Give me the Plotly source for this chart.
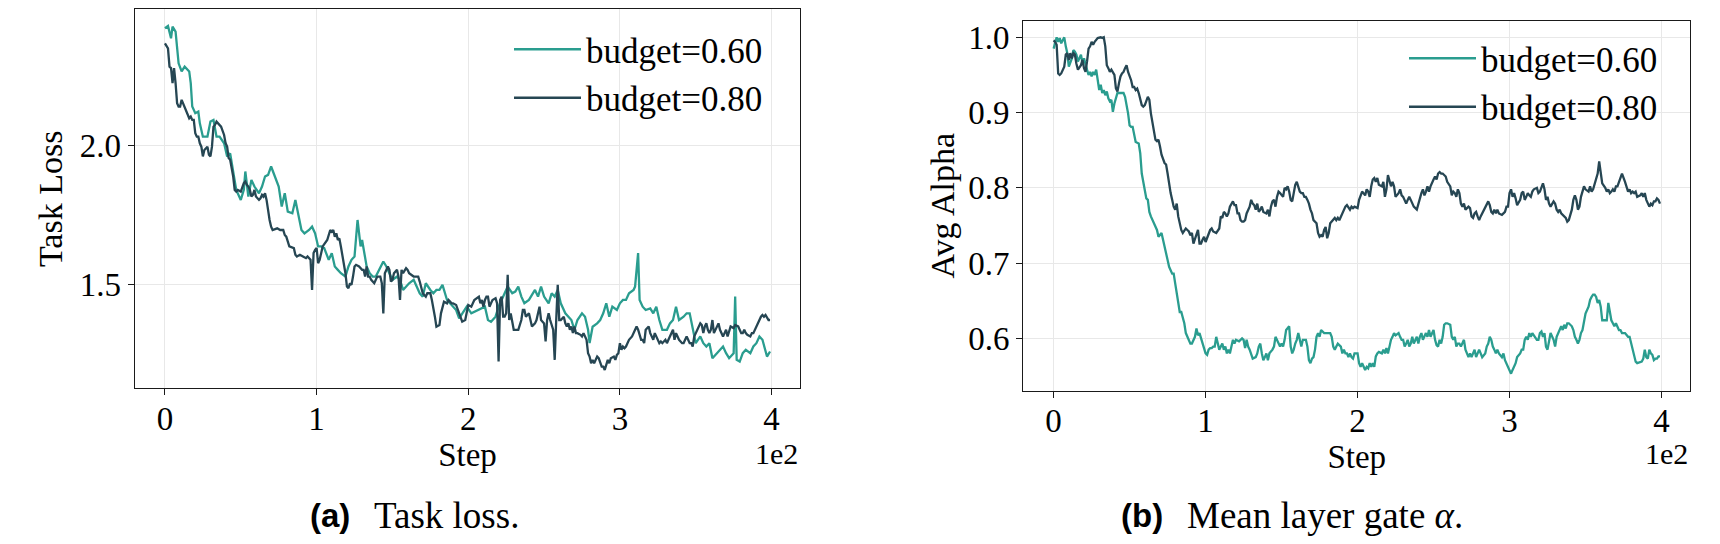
import plotly.graph_objects as go

# ---------------- data ----------------
series_names = ["budget=0.60", "budget=0.80"]

steps_loss_060 = [0,2,4,5,7,9,11,13,16,17,18,20,22,23,25,28,30,32,34,36,39,41,43,45,47,50,52,53,55,57,59,62,64,66,68,70,73,75,77,79,81,84,86,88,90,92,95,97,99,101,103,105,108,110,112,114,116,119,121,123,125,127,129,130,132,133,135,137,139,142,144,146,148,150,153,155,157,159,161,164,166,168,170,172,175,177,179,181,183,186,188,190,192,194,196,199,
                  202,207,211,213,215,218,220,222,224,226,229,231,233,235,237,240,242,244,246,248,250,253,255,257,259,261,264,266,268,270,272,275,277,279,280,282,285,287,289,291,293,295,298,300,302,304,306,309,310,312,313,315,317,320,322,324,326,328,331,333,335,337,339,342,344,346,348,350,353,355,357,359,361,364,366,368,370,372,375,376,377,379,381,383,386,388,390,392,394,395,397,399]
loss_060 = [2.421,2.429,2.385,2.427,2.409,2.295,2.266,2.283,2.266,2.224,2.140,2.116,2.122,2.080,2.032,2.032,2.086,2.092,2.032,2.032,
            2.008,1.961,1.972,1.901,1.841,1.805,1.841,1.907,1.817,1.877,1.853,1.829,1.853,1.889,1.895,1.925,1.877,1.853,1.781,1.829,
            1.763,1.757,1.805,1.757,1.697,1.685,1.697,1.709,1.685,1.638,1.638,1.632,1.590,1.614,1.566,1.554,1.542,1.530,1.566,1.590,
            1.602,1.733,1.638,1.661,1.602,1.566,1.542,1.530,1.530,1.566,1.584,1.566,1.542,1.518,1.530,1.518,1.482,1.494,1.506,1.518,
            1.494,1.470,1.458,1.506,1.482,1.470,1.482,1.482,1.500,1.446,1.434,1.422,1.410,1.380,1.398,1.422,
            1.398,1.410,1.422,1.374,1.368,1.386,1.422,1.446,1.470,1.494,1.470,1.476,1.494,1.458,1.434,1.446,1.464,1.482,1.458,1.494,
            1.458,1.434,1.470,1.458,1.482,1.434,1.398,1.386,1.374,1.339,1.374,1.398,1.386,1.339,1.291,1.350,1.362,1.374,1.398,1.434,
            1.386,1.422,1.410,1.434,1.446,1.446,1.470,1.482,1.494,1.614,1.446,1.422,1.410,1.416,1.398,1.422,1.374,1.339,1.339,1.362,
            1.374,1.422,1.374,1.386,1.398,1.398,1.339,1.291,1.315,1.291,1.279,1.291,1.237,1.255,1.267,1.279,1.255,1.237,1.255,1.458,
            1.231,1.225,1.255,1.267,1.255,1.279,1.291,1.315,1.303,1.279,1.243,1.261]

steps_loss_080 = [0,2,3,4,5,6,7,8,9,10,11,12,13,14,16,17,18,19,20,21,22,23,24,25,26,28,29,30,31,32,33,34,35,36,37,39,40,41,42,43,
                  44,45,46,47,48,50,52,53,54,55,56,57,58,59,60,62,63,64,65,66,67,68,69,70,71,74,76,78,79,80,82,85,86,87,89,91,93,94,96,97,
                  98,99,100,101,102,103,104,107,108,109,110,111,112,113,114,115,116,118,119,120,121,122,123,124,125,126,128,130,131,132,
                  133,134,135,136,138,140,142,143,144,145,146,147,148,149,150,151,153,154,155,156,157,158,159,160,161,164,166,167,168,169,
                  170,171,172,173,175,176,177,178,179,181,182,183,184,186,187,188,189,190,192,194,196,198,199,
                  200,202,204,207,208,209,210,211,212,213,214,215,216,218,219,220,221,222,223,224,225,226,227,228,230,231,233,235,236,237,
                  238,240,241,242,244,245,246,247,248,250,251,252,253,254,256,257,258,259,260,261,263,264,265,266,267,268,269,270,271,272,
                  274,275,276,277,278,279,280,281,282,283,285,286,287,288,289,290,291,292,293,294,296,297,298,299,300,301,302,303,304,305,
                  306,308,309,310,311,312,313,314,315,316,317,319,320,321,322,323,324,325,326,327,328,330,331,332,333,334,335,336,337,338,
                  339,341,342,343,344,345,346,347,348,349,350,351,353,354,355,356,357,358,359,360,361,362,364,365,366,367,368,369,370,371,
                  372,373,375,376,378,379,380,381,382,383,384,386,387,388,389,390,391,392,393,394,395,396,398,399]
loss_080 = [2.367,2.349,2.283,2.278,2.224,2.278,2.224,2.152,2.140,2.140,2.164,2.152,2.140,2.128,2.098,2.104,2.092,2.092,2.044,2.032,
            2.032,2.008,1.996,1.961,1.984,1.996,1.967,1.961,1.996,2.068,2.074,2.086,2.080,2.074,2.068,2.038,2.008,1.996,1.955,1.949,
            1.925,1.889,1.841,1.835,1.841,1.835,1.865,1.871,1.859,1.853,1.841,1.817,1.823,1.841,1.817,1.805,1.811,1.823,1.817,1.829,
            1.805,1.757,1.733,1.709,1.697,1.703,1.697,1.697,1.679,1.673,1.638,1.632,1.608,1.602,1.608,1.602,1.596,1.602,1.590,1.482,
            1.614,1.626,1.632,1.578,1.590,1.614,1.638,1.661,1.685,1.697,1.691,1.697,1.673,1.685,1.661,1.667,1.638,1.578,1.542,1.494,
            1.488,1.506,1.500,1.530,1.566,1.572,1.566,1.554,1.554,1.530,1.566,1.530,1.530,1.518,1.506,1.530,1.530,1.506,1.398,1.542,
            1.554,1.566,1.554,1.512,1.518,1.542,1.554,1.530,1.446,1.554,1.542,1.554,1.560,1.554,1.542,1.530,1.530,1.530,1.512,1.494,
            1.470,1.464,1.458,1.470,1.470,1.446,1.422,1.386,1.350,1.356,1.398,1.422,1.440,1.434,1.446,1.440,1.434,1.434,1.428,1.398,
            1.368,1.374,1.398,
            1.428,1.422,1.446,1.458,1.434,1.446,1.422,1.446,1.458,1.458,1.422,1.434,1.446,1.452,1.434,1.225,1.446,1.458,1.386,1.386,
            1.398,1.536,1.374,1.398,1.339,1.339,1.339,1.374,1.410,1.410,1.386,1.398,1.374,1.351,1.362,1.374,1.398,1.422,1.374,1.362,
            1.297,1.374,1.398,1.374,1.339,1.231,1.374,1.500,1.374,1.374,1.386,1.362,1.351,1.362,1.339,1.351,1.327,1.351,1.327,1.327,
            1.321,1.315,1.327,1.315,1.303,1.255,1.243,1.219,1.231,1.219,1.243,1.237,1.219,1.207,1.207,1.195,1.213,1.231,1.219,1.237,
            1.243,1.231,1.249,1.255,1.291,1.267,1.279,1.273,1.279,1.291,1.303,1.315,1.327,1.339,1.351,1.339,1.315,1.303,1.303,1.291,
            1.339,1.351,1.327,1.315,1.303,1.327,1.315,1.303,1.291,1.297,1.291,1.303,1.291,1.303,1.315,1.327,1.339,1.303,1.327,1.315,
            1.303,1.291,1.291,1.303,1.315,1.303,1.291,1.291,1.279,1.315,1.327,1.339,1.362,1.356,1.327,1.351,1.362,1.339,1.327,1.339,
            1.374,1.327,1.351,1.362,1.339,1.327,1.315,1.327,1.339,1.315,1.339,1.351,1.345,1.356,1.351,1.339,1.327,1.327,1.339,1.327,
            1.321,1.315,1.327,1.327,1.339,1.351,1.362,1.374,1.386,1.392,1.386,1.392,1.374,1.374]

steps_alpha_060 = [0,1,2,3,4,5,7,8,9,10,11,12,13,14,15,16,18,19,20,21,22,23,24,25,26,27,28,30,31,32,33,34,35,36,37,38,39,40,41,42,
                   43,45,46,47,48,49,50,51,52,53,54,56,57,58,59,60,61,62,63,64,65,66,68,69,70,71,72,73,74,75,76,78,79,80,81,82,83,84,85,86,
                   87,89,90,91,92,93,94,95,96,97,98,100,101,102,103,104,105,106,107,108,109,111,112,113,114,115,116,117,118,119,
                   120,122,123,124,125,126,127,128,129,130,131,133,134,135,136,137,138,139,140,141,142,144,145,146,147,148,149,150,151,152,
                   153,155,156,157,158,159,160,161,162,163,164,166,167,168,169,170,171,172,173,174,175,176,178,179,180,181,182,183,184,185,
                   186,187,189,190,191,192,193,194,195,196,197,
                   198,200,201,202,203,205,206,207,208,209,210,211,212,213,214,216,217,218,219,220,221,222,223,224,225,227,228,229,230,231,
                   232,233,234,235,236,237,239,240,241,242,243,244,245,246,247,248,250,251,252,253,254,255,256,257,258,259,261,262,263,264,
                   265,266,267,268,269,270,271,273,274,275,276,277,278,279,280,281,282,284,285,286,287,288,289,290,291,292,293,295,296,297,
                   298,299,300,301,302,303,304,305,307,308,309,310,311,312,313,314,315,316,318,319,320,321,322,323,324,325,326,327,329,330,
                   331,332,333,334,335,336,337,338,339,341,342,343,344,345,346,347,348,349,350,352,353,354,355,356,357,358,359,360,361,363,
                   364,365,366,367,368,369,370,371,372,373,374,376,377,378,379,380,381,382,383,384,386,387,388,389,390,391,392,393,394,395,
                   396,397,398,399]
alpha_060 = [0.985,0.994,1.000,0.994,0.999,0.992,1.000,0.988,0.979,0.961,0.968,0.972,0.983,0.981,0.977,0.968,0.977,0.965,0.972,0.963,
             0.957,0.950,0.954,0.948,0.954,0.950,0.957,0.930,0.937,0.926,0.930,0.923,0.928,0.919,0.915,0.917,0.901,0.912,0.921,0.926,
             0.926,0.926,0.926,0.921,0.912,0.899,0.883,0.881,0.881,0.872,0.861,0.859,0.846,0.819,0.806,0.794,0.786,0.784,0.768,0.762,
             0.757,0.753,0.744,0.735,0.738,0.740,0.731,0.720,0.713,0.704,0.695,0.686,0.686,0.673,0.660,0.642,0.635,0.635,0.629,0.620,
             0.607,0.596,0.593,0.593,0.598,0.602,0.613,0.604,0.607,0.600,0.593,0.580,0.578,0.585,0.587,0.587,0.589,0.589,0.602,0.593,
             0.585,0.593,0.585,0.589,0.580,0.585,0.580,0.589,0.598,0.593,0.598,0.596,0.598,0.600,0.598,0.587,0.598,0.589,0.585,0.580,
             0.573,0.575,0.580,0.589,0.593,0.580,0.571,0.575,0.580,0.571,0.580,0.585,0.589,0.602,0.598,0.593,0.589,0.593,0.589,0.598,
             0.611,0.616,0.589,0.580,0.585,0.593,0.598,0.607,0.598,0.589,0.598,0.598,0.589,0.571,0.567,0.573,0.575,0.585,0.602,0.607,
             0.602,0.611,0.607,0.607,0.607,0.607,0.607,0.602,0.589,0.585,0.589,0.593,0.589,0.580,0.585,0.580,0.580,0.575,0.580,0.575,
             0.573,
             0.580,0.580,0.567,0.562,0.567,0.558,0.562,0.560,0.567,0.562,0.567,0.562,0.576,0.580,0.582,0.580,0.585,0.580,0.587,0.580,
             0.589,0.598,0.602,0.607,0.604,0.607,0.602,0.598,0.598,0.589,0.593,0.598,0.589,0.593,0.602,0.593,0.602,0.593,0.602,0.607,
             0.598,0.602,0.607,0.602,0.611,0.602,0.611,0.598,0.591,0.589,0.598,0.593,0.602,0.618,0.620,0.620,0.618,0.602,0.598,0.602,
             0.589,0.593,0.593,0.589,0.593,0.598,0.585,0.575,0.580,0.575,0.580,0.585,0.575,0.580,0.585,0.580,0.575,0.580,0.589,0.593,
             0.602,0.598,0.589,0.585,0.580,0.585,0.580,0.575,0.580,0.571,0.567,0.562,0.558,0.553,0.558,0.562,0.567,0.575,0.580,0.585,
             0.585,0.598,0.602,0.598,0.607,0.602,0.607,0.604,0.598,0.598,0.607,0.609,0.602,0.607,0.589,0.585,0.598,0.607,0.598,0.589,
             0.602,0.607,0.611,0.616,0.611,0.618,0.613,0.620,0.620,0.616,0.611,0.602,0.598,0.593,0.598,0.607,0.611,0.624,0.633,0.642,
             0.651,0.655,0.658,0.658,0.655,0.647,0.651,0.642,0.624,0.624,0.624,0.647,0.633,0.624,0.620,0.616,0.620,0.616,0.611,0.611,
             0.607,0.607,0.604,0.602,0.602,0.593,0.585,0.575,0.569,0.567,0.569,0.569,0.573,0.585,0.575,0.573,0.585,0.580,0.578,0.571,
             0.573,0.573,0.576,0.576]

steps_alpha_080 = [0,1,2,3,4,5,7,8,9,10,11,12,13,14,15,16,18,19,20,21,22,23,24,25,26,27,29,30,31,32,33,34,35,36,37,38,40,41,42,43,
                   44,45,46,47,48,49,51,52,53,54,55,56,57,58,59,60,62,63,64,65,66,67,68,69,70,71,73,74,75,76,77,78,79,80,81,82,84,85,86,87,
                   88,89,90,91,92,93,95,96,97,98,99,100,101,102,103,104,105,107,108,109,110,111,112,113,114,115,116,118,119,120,
                   121,122,123,124,125,126,127,129,130,131,132,133,134,135,136,137,138,140,141,142,143,144,145,146,147,148,149,151,152,153,
                   154,155,156,157,158,159,160,162,163,164,165,166,167,168,169,170,171,173,174,175,176,177,178,179,180,181,182,184,185,186,
                   187,188,189,190,191,192,193,195,196,197,198,
                   200,201,202,203,205,206,207,208,209,210,211,212,213,214,216,217,218,219,220,221,222,223,224,225,227,228,229,230,231,232,
                   233,234,235,236,237,239,240,241,242,243,244,245,246,247,248,250,251,252,253,254,255,256,257,258,259,261,262,263,264,265,
                   266,267,268,269,270,271,273,274,275,276,277,278,279,280,281,282,284,285,286,287,288,289,290,291,292,293,295,296,297,298,
                   299,300,301,302,303,304,305,307,308,309,310,311,312,313,314,315,316,318,319,320,321,322,323,324,325,326,327,329,330,331,
                   332,333,334,335,336,337,338,339,341,342,343,344,345,346,347,348,349,350,352,353,354,355,356,357,358,359,360,361,363,364,
                   365,366,367,368,369,370,371,372,373,374,376,377,378,379,380,381,382,383,384,386,387,388,389,390,391,392,393,394,395,396,
                   397,398,399]
alpha_080 = [0.996,0.994,0.990,0.952,0.950,0.952,0.961,0.977,0.979,0.970,0.979,0.972,0.979,0.977,0.965,0.957,0.963,0.970,0.959,0.954,
             0.968,0.985,0.988,0.994,0.990,0.994,0.999,1.000,1.000,0.999,1.000,0.988,0.963,0.959,0.954,0.957,0.950,0.932,0.928,0.939,
             0.948,0.952,0.954,0.959,0.963,0.954,0.943,0.934,0.934,0.930,0.932,0.926,0.917,0.910,0.908,0.910,0.921,0.917,0.899,0.886,
             0.875,0.864,0.862,0.864,0.855,0.844,0.833,0.831,0.819,0.802,0.793,0.784,0.775,0.771,0.779,0.762,0.744,0.740,0.744,0.746,
             0.744,0.742,0.737,0.740,0.726,0.733,0.744,0.726,0.726,0.731,0.735,0.728,0.733,0.740,0.744,0.746,0.742,0.740,0.744,0.746,
             0.762,0.760,0.768,0.766,0.762,0.766,0.775,0.782,0.777,0.777,0.766,0.766,0.757,0.755,0.755,0.757,0.766,0.775,0.784,0.779,
             0.777,0.771,0.779,0.768,0.771,0.775,0.768,0.766,0.771,0.762,0.775,0.782,0.784,0.775,0.788,0.795,0.793,0.788,0.800,0.798,
             0.802,0.795,0.784,0.782,0.793,0.804,0.808,0.795,0.793,0.793,0.788,0.788,0.784,0.779,0.771,0.766,0.757,0.753,0.740,0.735,
             0.737,0.735,0.744,0.748,0.733,0.740,0.753,0.757,0.760,0.757,0.760,0.757,0.762,0.766,0.771,0.775,0.777,0.771,0.775,0.773,
             0.775,
             0.773,0.784,0.790,0.795,0.790,0.798,0.795,0.788,0.802,0.811,0.813,0.808,0.813,0.804,0.802,0.808,0.788,0.798,0.817,0.808,
             0.802,0.808,0.802,0.788,0.793,0.798,0.790,0.788,0.784,0.779,0.784,0.788,0.784,0.779,0.775,0.771,0.779,0.786,0.793,0.798,
             0.790,0.795,0.802,0.795,0.802,0.811,0.815,0.811,0.819,0.821,0.819,0.819,0.817,0.815,0.808,0.802,0.790,0.795,0.793,0.788,
             0.798,0.793,0.779,0.775,0.779,0.771,0.775,0.773,0.762,0.760,0.766,0.768,0.762,0.757,0.762,0.766,0.773,0.779,0.782,0.777,
             0.768,0.766,0.771,0.766,0.771,0.766,0.764,0.766,0.768,0.775,0.775,0.793,0.798,0.788,0.793,0.786,0.777,0.784,0.793,0.795,
             0.784,0.788,0.793,0.790,0.788,0.795,0.798,0.800,0.793,0.795,0.802,0.806,0.798,0.784,0.788,0.779,0.775,0.782,0.779,0.771,
             0.768,0.771,0.766,0.764,0.762,0.760,0.755,0.757,0.771,0.784,0.790,0.784,0.771,0.775,0.788,0.795,0.802,0.798,0.795,0.802,
             0.795,0.798,0.804,0.811,0.819,0.835,0.821,0.806,0.800,0.795,0.798,0.793,0.795,0.798,0.795,0.802,0.802,0.808,0.811,0.819,
             0.808,0.800,0.795,0.798,0.793,0.795,0.793,0.795,0.788,0.790,0.793,0.788,0.793,0.784,0.779,0.775,0.779,0.777,0.782,0.782,
             0.786,0.784,0.779]

x_tickvals = [0, 100, 200, 300, 400]
x_ticktext = ["0", "1", "2", "3", "4"]
loss_tickvals = [1.5, 2.0]
loss_ticktext = ["1.5", "2.0"]
alpha_tickvals = [0.6, 0.7, 0.8, 0.9, 1.0]
alpha_ticktext = ["0.6", "0.7", "0.8", "0.9", "1.0"]

for s, v in [(steps_loss_060, loss_060), (steps_loss_080, loss_080),
             (steps_alpha_060, alpha_060), (steps_alpha_080, alpha_080)]:
    assert len(s) == len(v), (len(s), len(v))

# ---------------- style ----------------
W, H = 1720, 544
SERIF = "Liberation Serif"
TEAL = "#2a9d8f"
DARK = "#264653"
GRID = "#e8e8e8"
LW = 2.3

fig = go.Figure()
fig.add_trace(go.Scatter(x=steps_loss_060, y=loss_060, mode="lines", name=series_names[0],
                         line=dict(color=TEAL, width=LW), xaxis="x", yaxis="y", legend="legend"))
fig.add_trace(go.Scatter(x=steps_loss_080, y=loss_080, mode="lines", name=series_names[1],
                         line=dict(color=DARK, width=LW), xaxis="x", yaxis="y", legend="legend"))
fig.add_trace(go.Scatter(x=steps_alpha_060, y=alpha_060, mode="lines", name=series_names[0],
                         line=dict(color=TEAL, width=LW), xaxis="x2", yaxis="y2", legend="legend2"))
fig.add_trace(go.Scatter(x=steps_alpha_080, y=alpha_080, mode="lines", name=series_names[1],
                         line=dict(color=DARK, width=LW), xaxis="x2", yaxis="y2", legend="legend2"))

def px_x(p):
    return p / W

def px_y(p):
    return 1 - p / H

axis_common = dict(showline=True, linecolor="#1a1a1a", linewidth=1.3, mirror=True,
                   showgrid=True, gridcolor=GRID, gridwidth=1, zeroline=False,
                   ticks="outside", ticklen=6, tickwidth=1.2, tickcolor="#1a1a1a",
                   tickfont=dict(family=SERIF, size=33, color="black"))

fig.update_layout(
    width=W, height=H, margin=dict(l=0, r=0, t=0, b=0),
    paper_bgcolor="white", plot_bgcolor="white",
    font=dict(family=SERIF, color="black"),
    xaxis=dict(domain=[px_x(134.7), px_x(800.3)], range=[-19.95, 418.95], anchor="y",
               tickvals=x_tickvals, ticktext=x_ticktext, ticklabelstandoff=-5,
               title=dict(text="Step", font=dict(family=SERIF, size=33), standoff=0), **axis_common),
    yaxis=dict(domain=[px_y(388.3), px_y(9.3)], range=[1.129, 2.489], anchor="x",
               tickvals=loss_tickvals, ticktext=loss_ticktext,
               title=dict(text="Task Loss", font=dict(family=SERIF, size=34), standoff=6), **axis_common),
    xaxis2=dict(domain=[px_x(1023.3), px_x(1690.3)], range=[-19.95, 418.95], anchor="y2",
                tickvals=x_tickvals, ticktext=x_ticktext, ticklabelstandoff=-5,
                title=dict(text="Step", font=dict(family=SERIF, size=33), standoff=0), **axis_common),
    yaxis2=dict(domain=[px_y(390.7), px_y(20.7)], range=[0.5304, 1.0221], anchor="x2",
                tickvals=alpha_tickvals, ticktext=alpha_ticktext,
                title=dict(text="Avg Alpha", font=dict(family=SERIF, size=34), standoff=3), **axis_common),
    legend=dict(x=px_x(509), y=px_y(20), xanchor="left", yanchor="top",
                font=dict(family=SERIF, size=35, color="black"), bgcolor="rgba(0,0,0,0)",
                itemwidth=67, tracegroupgap=0),
    legend2=dict(x=px_x(1404), y=px_y(29), xanchor="left", yanchor="top",
                 font=dict(family=SERIF, size=35, color="black"), bgcolor="rgba(0,0,0,0)",
                 itemwidth=67, tracegroupgap=0),
    showlegend=True,
)

annotations = [
    dict(text="1e2", x=px_x(800.3), y=px_y(453), xanchor="right", yanchor="middle",
         font=dict(family=SERIF, size=30)),
    dict(text="1e2", x=px_x(1690.3), y=px_y(453), xanchor="right", yanchor="middle",
         font=dict(family=SERIF, size=30)),
    dict(text="<b>(a)</b>", x=px_x(352), y=px_y(515), xanchor="right", yanchor="middle",
         font=dict(family="Liberation Sans", size=33)),
    dict(text="Task loss.", x=px_x(372), y=px_y(515), xanchor="left", yanchor="middle",
         font=dict(family=SERIF, size=37)),
    dict(text="<b>(b)</b>", x=px_x(1165), y=px_y(515), xanchor="right", yanchor="middle",
         font=dict(family="Liberation Sans", size=33)),
    dict(text="Mean layer gate <i>α</i>.", x=px_x(1185), y=px_y(515), xanchor="left", yanchor="middle",
         font=dict(family=SERIF, size=37)),
]
for a in annotations:
    a.update(xref="paper", yref="paper", showarrow=False)
fig.update_layout(annotations=annotations)

fig.write_html("out.html")
